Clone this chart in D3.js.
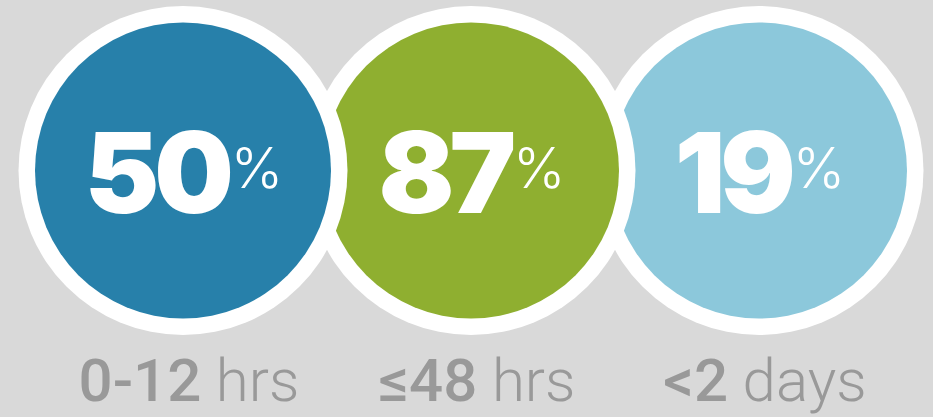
<!DOCTYPE html>
<html>
<head>
<meta charset="utf-8">
<script src="https://cdn.jsdelivr.net/npm/d3@7"></script>
<style>
  html, body { margin: 0; padding: 0; background: #d9d9d9; }
  svg { display: block; }
</style>
</head>
<body>
<svg id="chart"></svg>
<script>
// values
const values = [50, 87, 19];
const labelNums = ['0-12', '\u226448', '<2'];
const labelUnits = ['hrs', 'hrs', 'days'];
const colors = ['#2780aa', '#8faf30', '#8cc8db'];

const width = 933, height = 417;
const outerR = 164.5, innerR = 148;

const svg = d3.select('#chart')
    .attr('width', width)
    .attr('height', height);

svg.append('rect')
    .attr('width', width)
    .attr('height', height)
    .attr('fill', '#d9d9d9');

const data = values.map((v, i) => ({ value: v, num: labelNums[i], unit: labelUnits[i], color: colors[i], i: i }));

const x = d3.scalePoint()
    .domain(d3.range(values.length))
    .range([183, 759]);

const cy = 170.5;

// first circle sits on top, so draw from the last one
const circles = svg.append('g')
    .selectAll('g')
    .data(data.slice().reverse())
    .join('g')
    .attr('transform', d => `translate(${x(d.i)}, ${cy})`);

circles.append('circle')
    .attr('r', outerR)
    .attr('fill', '#ffffff');

circles.append('circle')
    .attr('r', innerR)
    .attr('fill', d => d.color);

const valText = circles.append('text')
    .attr('x', 1)
    .attr('y', 42)
    .attr('text-anchor', 'middle')
    .attr('fill', '#ffffff')
    .attr('font-family', 'Inter, sans-serif');

valText.append('tspan')
    .attr('font-size', 112)
    .attr('font-weight', 900)
    .attr('letter-spacing', -5)
    .text(d => d.value);

valText.append('tspan')
    .attr('font-size', 56)
    .attr('font-weight', 300)
    .attr('dx', 2)
    .attr('dy', -25)
    .text('%');

// labels under the circles
const labels = svg.append('g')
    .selectAll('text')
    .data(data)
    .join('text')
    .attr('x', d => x(d.i) + 6)
    .attr('y', 401)
    .attr('text-anchor', 'middle')
    .attr('fill', '#999999')
    .attr('font-family', 'Roboto, sans-serif')
    .attr('font-size', 60);

labels.append('tspan')
    .attr('font-weight', 500)
    .text(d => d.num);

labels.append('tspan')
    .attr('font-weight', 300)
    .text(d => '\u00a0' + d.unit);
</script>
</body>
</html>
